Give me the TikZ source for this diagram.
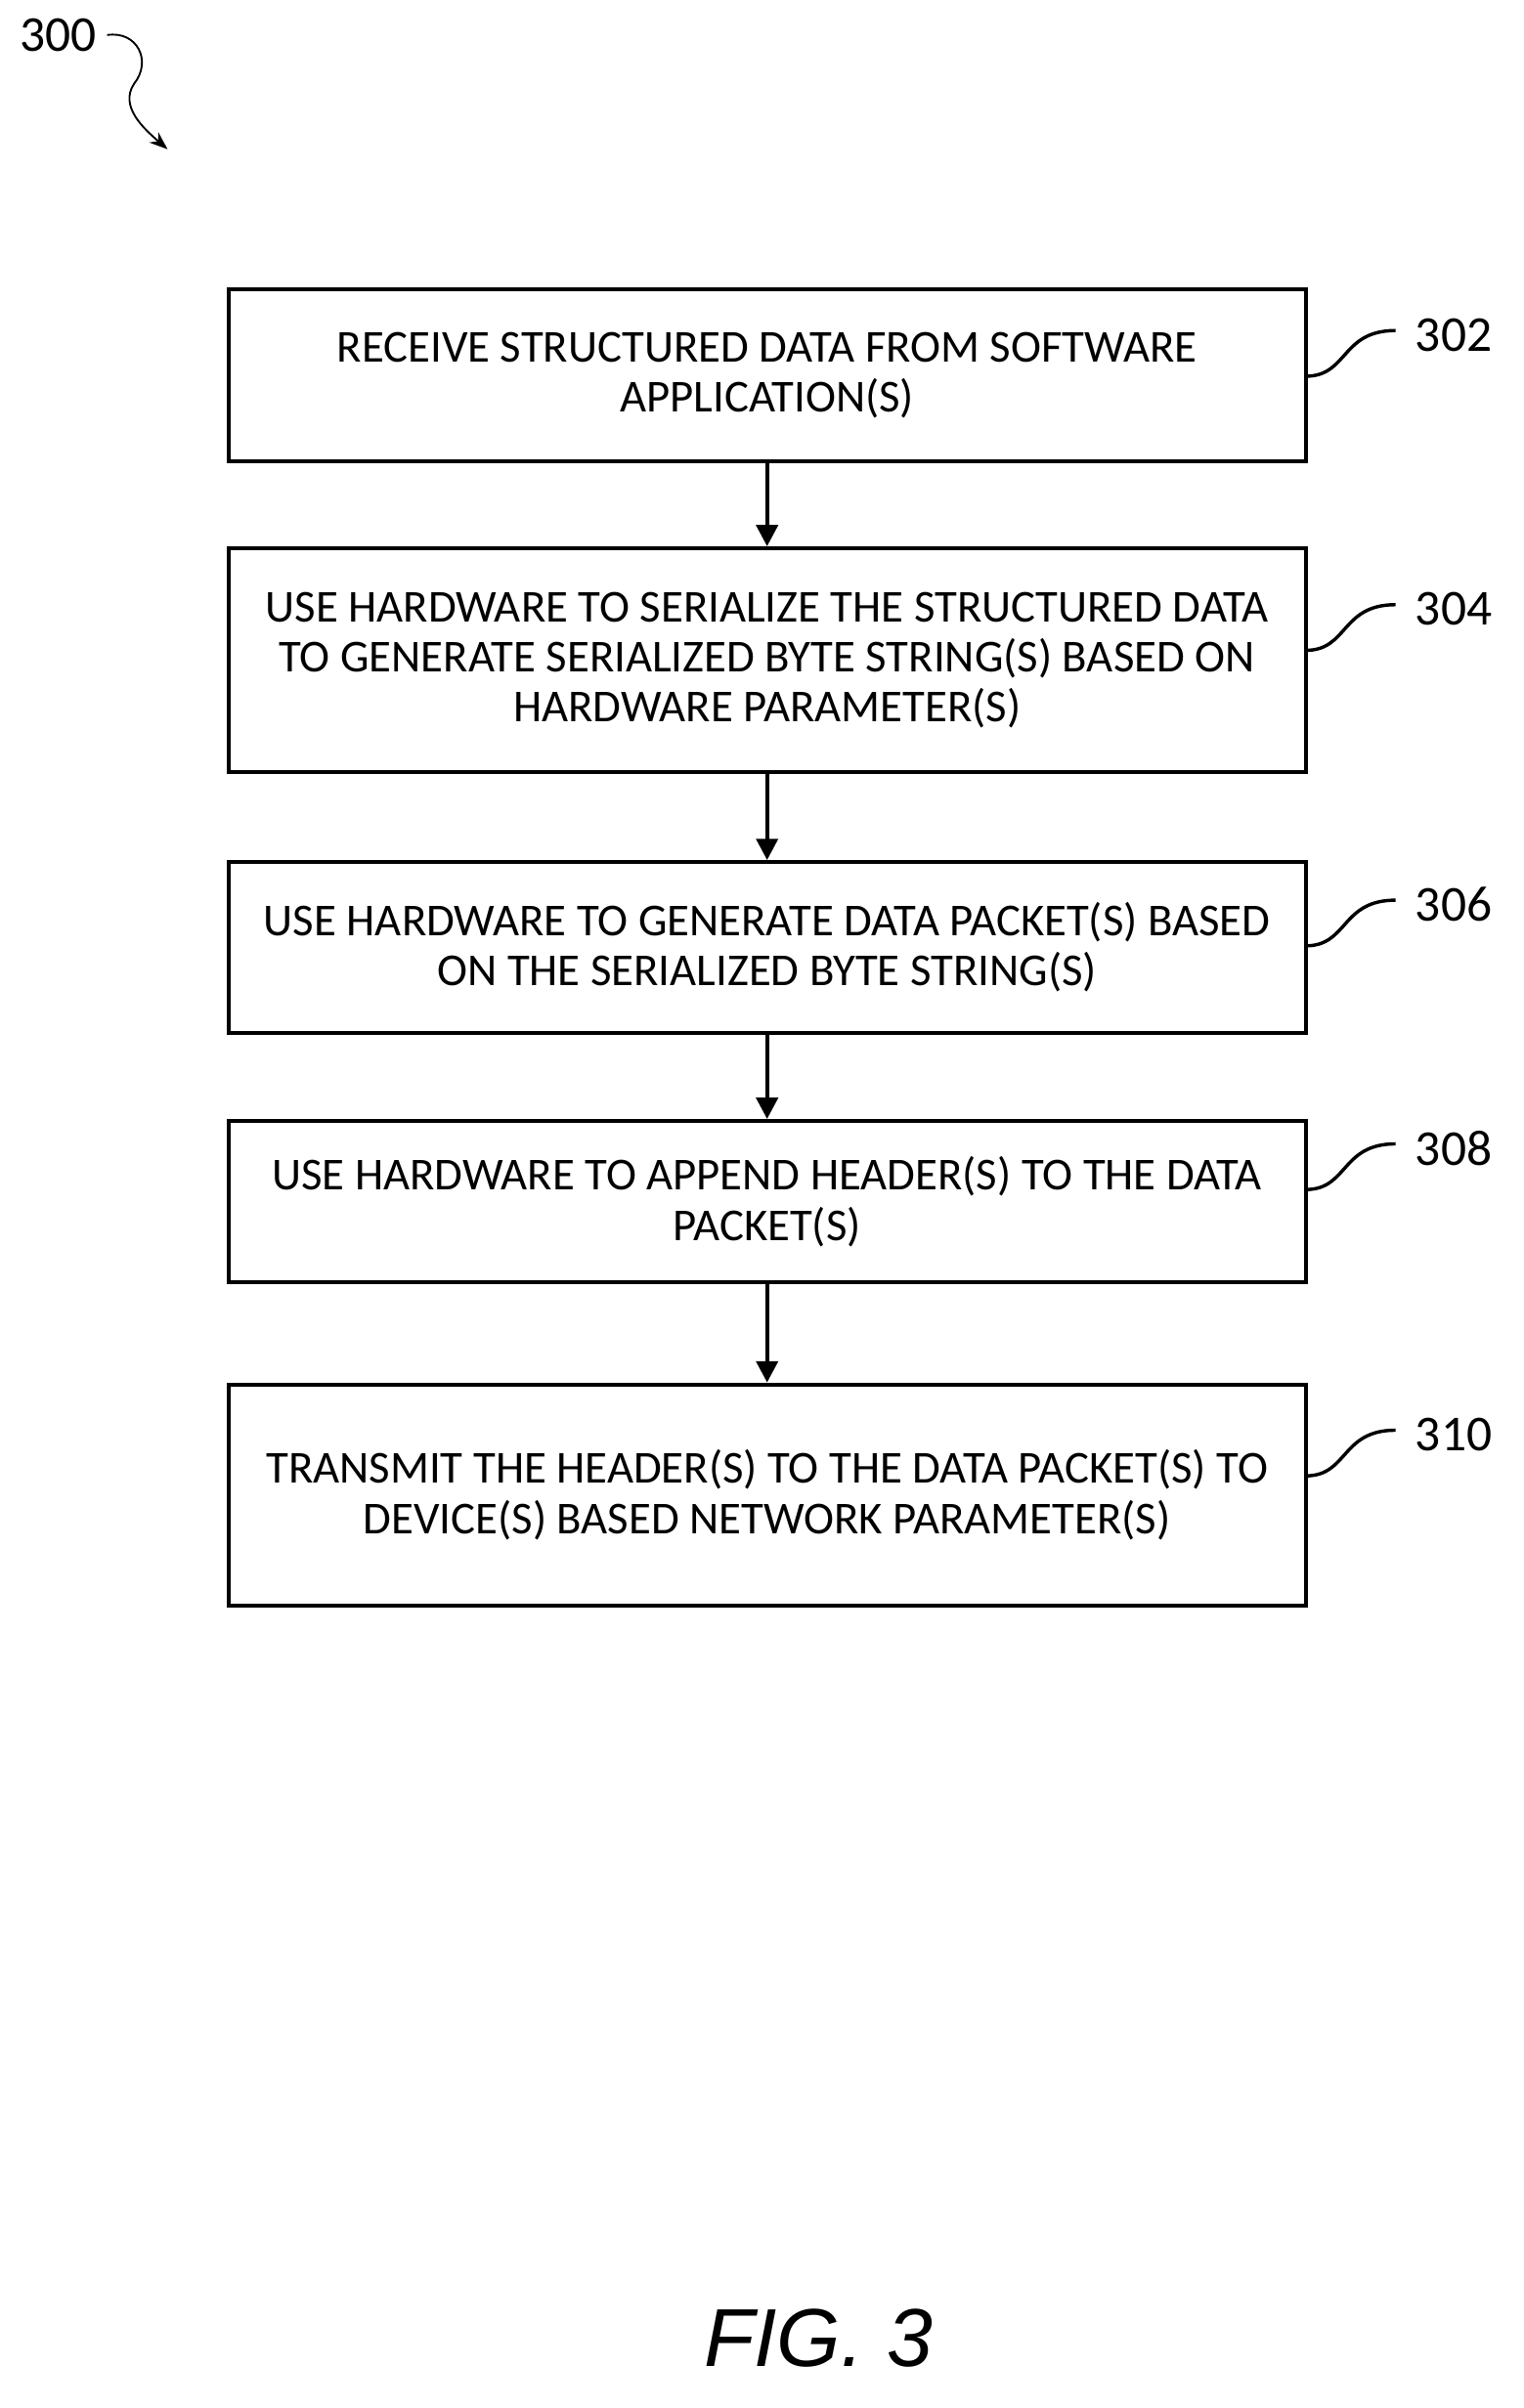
\documentclass[tikz,border=0pt]{standalone}
\usepackage{fontspec}
\setmainfont{Carlito}
\newfontfamily\figfont{Liberation Sans}
\usetikzlibrary{positioning, calc, arrows.meta}

\tikzset{
  stepbox/.style={draw, line width=1.3pt, minimum width=353.5pt, align=center, font=\fontsize{15}{16.5}\selectfont, inner sep=0pt},
  flow/.style={-{Triangle[length=7pt,width=7pt]}, line width=1.4pt},
  refnum/.style={font=\fontsize{16.5}{18}\selectfont, anchor=west},
  squig/.style={line width=1.1pt}
}

\begin{document}
\begin{tikzpicture}[x=0.5pt, y=-0.5pt]
        \useasboundingbox (0,0) rectangle (1000,1581);

        % Etapes
        \node[stepbox, minimum height=56.5pt] (s302) at (503.5,246.5) {RECEIVE STRUCTURED DATA FROM SOFTWARE\\APPLICATION(S)};
        \node[stepbox, minimum height=73.5pt] (s304) at (503.5,433.5) {USE HARDWARE TO SERIALIZE THE STRUCTURED DATA\\TO GENERATE SERIALIZED BYTE STRING(S) BASED ON\\HARDWARE PARAMETER(S)};
        \node[stepbox, minimum height=56pt] (s306) at (503.5,622) {USE HARDWARE TO GENERATE DATA PACKET(S) BASED\\ON THE SERIALIZED BYTE STRING(S)};
        \node[stepbox, minimum height=53pt] (s308) at (503.5,789) {USE HARDWARE TO APPEND HEADER(S) TO THE DATA\\PACKET(S)};
        \node[stepbox, minimum height=72.5pt] (s310) at (503.5,981.5) {TRANSMIT THE HEADER(S) TO THE DATA PACKET(S) TO\\DEVICE(S) BASED NETWORK PARAMETER(S)};

        % Fleches
        \draw[flow] (s302) -- (s304);
        \draw[flow] (s304) -- (s306);
        \draw[flow] (s306) -- (s308);
        \draw[flow] (s308) -- (s310);

        % Numeros de reference
        \foreach \n/\y in {302/220, 304/400, 306/594, 308/754, 310/942} {
            \node[refnum] (r\n) at (922,\y) {\n};
            \draw[squig] (857,\y+27) .. controls (885,\y+27) and (880,\y-3) .. (916,\y-3);
        }

        % Figure
        \node[refnum] (r300) at (6,23) {300};
        \coordinate (a300) at (110,98);
        \draw[line width=0.6pt, -{Stealth[length=6pt]}] (r300.east) .. controls (90,20) and (100,40) .. (88,55) .. controls (78,70) and (95,85) .. (a300);
        \node[font=\figfont\itshape\fontsize{27}{30}\selectfont] (fig) at (537,1535) {FIG. 3};
\end{tikzpicture}
\end{document}
